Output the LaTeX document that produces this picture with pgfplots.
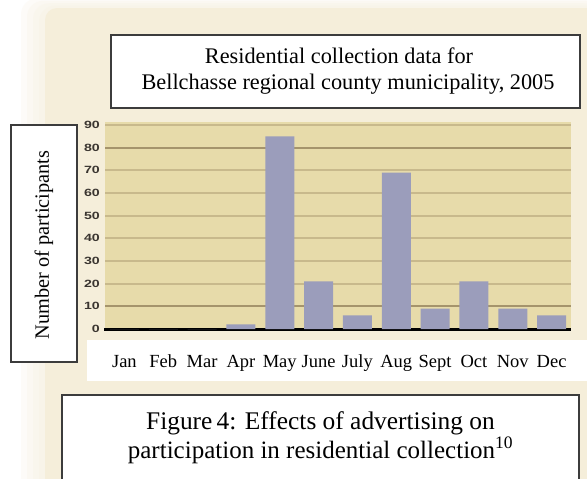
\documentclass[border=0pt]{standalone}
\usepackage{pgfplots}
\pgfplotsset{compat=1.18}
\usepackage{graphicx}
\usepackage{fontspec}
\setmainfont{Liberation Serif}
\newfontfamily\tickfont{Liberation Sans}

\definecolor{panel}{HTML}{F5EEDA}
\definecolor{plotbg}{HTML}{E7DBAA}
\definecolor{gridtan}{HTML}{C8B98C}
\definecolor{griddark}{HTML}{A5946C}
\definecolor{barblue}{HTML}{9B9DBB}
\definecolor{boxline}{HTML}{3C3C3C}
\definecolor{ticktext}{HTML}{3A3530}

\begin{document}
\begin{tikzpicture}
% page and cream panel with a soft left/top edge
\fill[white] (0pt,0pt) rectangle (587pt,-479pt);
\useasboundingbox (0pt,0pt) rectangle (587pt,-479pt);
\foreach \o in {24,18,12,6}{
  \fill[panel, opacity=0.18, rounded corners=16pt]
    (45pt-\o pt,-8pt+\o pt*0.4) rectangle (600pt,-495pt);
}
\fill[panel, rounded corners=12pt] (45pt,-8pt) rectangle (600pt,-495pt);

% white strip behind the month names
\fill[white] (87pt,-340pt) rectangle (590pt,-381pt);

% title box
\draw[boxline, line width=1.2pt, fill=white] (111pt,-35pt) rectangle (580pt,-108pt);
\node[anchor=base, inner sep=0pt, font=\fontsize{22.3}{26}\selectfont] at (339pt,-63pt)
  {Residential collection data for};
\node[anchor=base, inner sep=0pt, font=\fontsize{22.3}{26}\selectfont] at (348pt,-89pt)
  {Bellchasse regional county municipality, 2005};

% y label box
\draw[boxline, line width=1.2pt, fill=white] (11pt,-125pt) rectangle (77pt,-362pt);
\node[rotate=90, inner sep=0pt, font=\fontsize{20.3}{24}\selectfont] at (44pt,-245pt)
  {Number of participants};

% caption box
\draw[boxline, line width=1.2pt, fill=white] (62pt,-395pt) rectangle (579pt,-495pt);
\node[anchor=base, inner sep=0pt, font=\fontsize{25.4}{29}\selectfont] at (320.5pt,-429pt)
  {Figure\,4: Effects of advertising on};
\node[anchor=base, inner sep=0pt, font=\fontsize{25}{29}\selectfont] at (320.5pt,-458pt)
  {participation in residential collection\textsuperscript{10}};

\begin{axis}[
  at={(105pt,-329pt)}, anchor=south west,
  scale only axis, width=466pt, height=207.4pt,
  xmin=-0.5, xmax=11.5, ymin=0, ymax=91.5,
  axis background/.style={fill=plotbg},
  axis lines*=left,
  x axis line style={black, line width=3pt, shorten <=-1pt},
  y axis line style={draw=none},
  major tick length=0pt,
  xtick=data,
  xticklabels={Jan,Feb,Mar,Apr,May,June,July,Aug,Sept,Oct,Nov,Dec},
  xticklabel style={font=\fontsize{18.5}{20}\selectfont, anchor=base, yshift=-38pt, inner sep=0pt},
  ytick={0,10,...,90},
  yticklabel={\scalebox{1.35}[1]{\pgfmathprintnumber{\tick}}},
  yticklabel style={font=\tickfont\bfseries\fontsize{10.5}{11}\selectfont, text=ticktext, anchor=east, inner sep=0pt, xshift=-5pt},
  /pgf/number format/assume math mode=true,
  ymajorgrids,
  grid style={gridtan, line width=2pt},
  extra y ticks={10,80},
  extra y tick labels={},
  extra y tick style={grid style={griddark, line width=2pt}},
  ybar, bar width=29pt,
]
\addplot[fill=barblue, draw=none] coordinates {
  (0,0) (1,0) (2,0) (3,2) (4,85) (5,21) (6,6) (7,69) (8,9) (9,21) (10,9) (11,6)
};
\end{axis}
\end{tikzpicture}
\end{document}
